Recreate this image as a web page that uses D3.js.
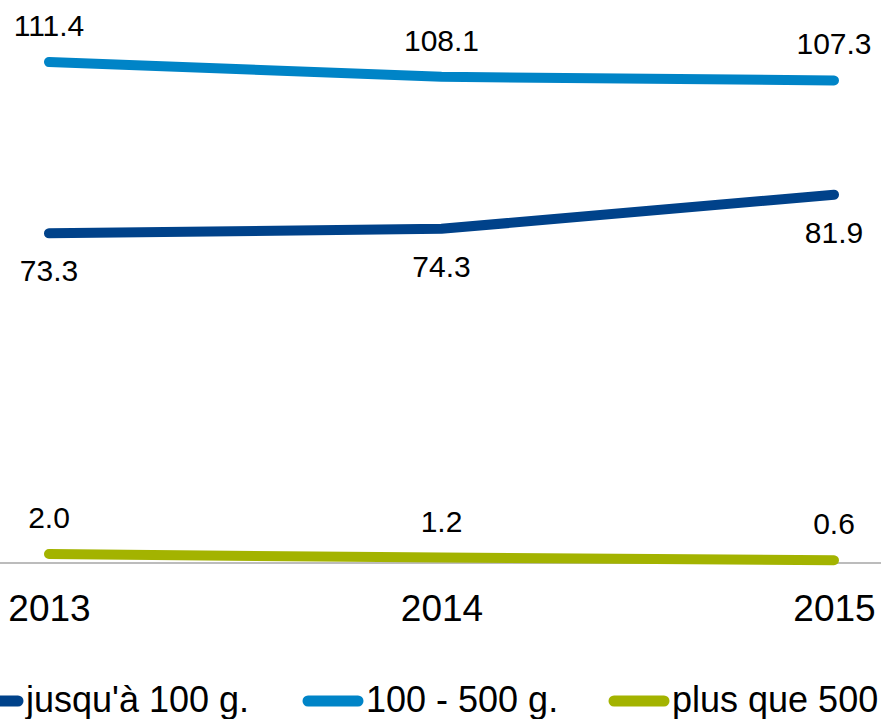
<!DOCTYPE html>
<html><head><meta charset="utf-8">
<script src="https://cdn.jsdelivr.net/npm/d3@7/dist/d3.min.js"></script>
<style>html,body{margin:0;padding:0;background:#fff;overflow:hidden}</style>
</head><body>
<svg id="c" width="881" height="719"></svg>
<script>
const years = ["2013", "2014", "2015"];
const seriesNames = ["jusqu'à 100 g.", "100 - 500 g.", "plus que 500 g."];
const seriesColors = ["#00428A", "#0084C7", "#A3B300"];
const upTo100 = [73.3, 74.3, 81.9];
const from100to500 = [111.4, 108.1, 107.3];
const over500 = [2.0, 1.2, 0.6];
const labelPos = ["below", "above", "above"];

const series = [upTo100, from100to500, over500].map((v, i) => ({
  name: seriesNames[i], color: seriesColors[i], values: v, pos: labelPos[i]
}));

const svg = d3.select("#c");
const font = "'Liberation Sans', Arial, sans-serif";
const x = d3.scalePoint().domain(years).range([49, 834]);
const y = d3.scaleLinear().domain([0, 111.4]).range([563, 62]);

// axis baseline
svg.append("line").attr("x1", 0).attr("x2", 881)
  .attr("y1", y(0)).attr("y2", y(0))
  .attr("stroke", "#A6A6A6").attr("stroke-width", 1.5);

// x axis labels
const xAxis = d3.axisBottom(x).tickSize(0).tickPadding(0);
const gx = svg.append("g").attr("transform", `translate(0,${y(0)})`).call(xAxis);
gx.select(".domain").remove();
gx.selectAll("text").attr("font-family", font).attr("font-size", 37)
  .attr("fill", "#000").attr("dy", null).attr("y", 58);

const line = d3.line().x((d, i) => x(years[i])).y(d => y(d));

series.forEach(s => {
  svg.append("path").datum(s.values).attr("d", line)
    .attr("fill", "none").attr("stroke", s.color).attr("stroke-width", 10)
    .attr("stroke-linecap", "round").attr("stroke-linejoin", "round");
  svg.append("g").selectAll("text").data(s.values).join("text")
    .attr("x", (d, i) => x(years[i]))
    .attr("y", d => s.pos === "below" ? y(d) + 48 : y(d) - 26)
    .attr("text-anchor", "middle")
    .attr("font-family", font).attr("font-size", 30).attr("fill", "#000")
    .text(d => d.toFixed(1));
});

// legend
const legendX = [-37, 303, 609];
const lg = svg.append("g").attr("transform", "translate(0,701)");
series.forEach((s, i) => {
  lg.append("line").attr("x1", legendX[i] + 5).attr("x2", legendX[i] + 55)
    .attr("y1", 0).attr("y2", 0).attr("stroke", s.color)
    .attr("stroke-width", 11).attr("stroke-linecap", "round");
  lg.append("text").attr("x", legendX[i] + 63).attr("y", 11)
    .attr("font-family", font).attr("font-size", 36).attr("fill", "#000")
    .text(s.name);
});
</script>
</body></html>
